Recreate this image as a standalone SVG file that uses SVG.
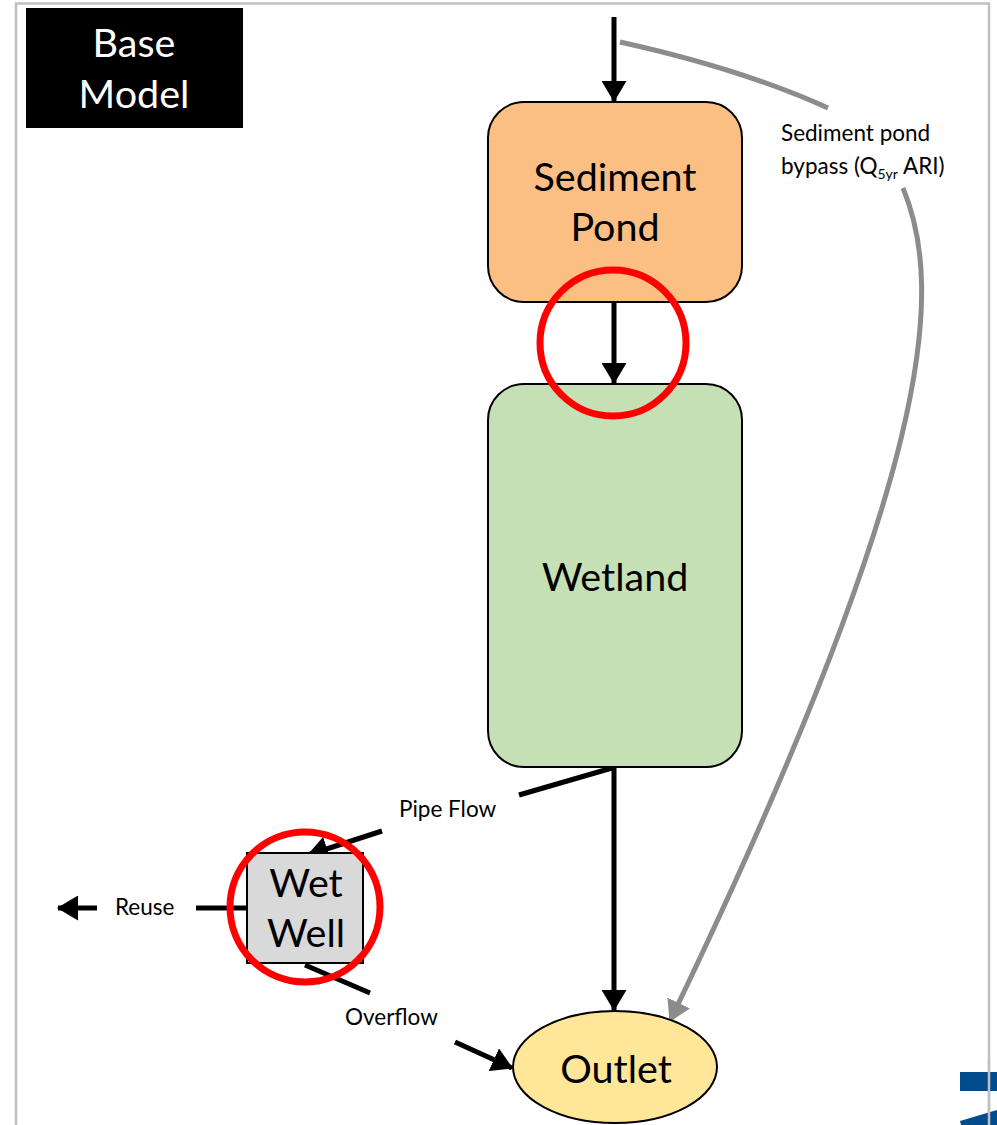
<svg xmlns="http://www.w3.org/2000/svg" width="997" height="1125" viewBox="0 0 997 1125">
<defs>
<style>
.node{stroke:#000;stroke-width:2}
.big{font-family:Lato,"Open Sans","Liberation Sans",sans-serif;font-size:39.5px;fill:#000;text-anchor:middle}
.lbl{font-family:Lato,"Open Sans","Liberation Sans",sans-serif;font-size:22.5px;fill:#000}
.flow{stroke:#000;stroke-width:5;fill:none}
.bypass{stroke:#8c8c8c;stroke-width:5;fill:none}
.ring{stroke:#ff0000;stroke-width:7;fill:none}
</style>
<marker id="ah" markerWidth="5" markerHeight="5" refX="4" refY="2.5" orient="auto" markerUnits="strokeWidth">
<path d="M0,0 L4.2,2.5 L0,5 Z" fill="#000"/>
</marker>
<marker id="ahg" markerWidth="5" markerHeight="5" refX="4" refY="2.5" orient="auto" markerUnits="strokeWidth">
<path d="M0,0 L4.2,2.5 L0,5 Z" fill="#8c8c8c"/>
</marker>
</defs>
<rect width="997" height="1125" fill="#fff"/>
<path d="M16,1125 V3.5 H989 V1125" fill="none" stroke="#c0c0c0" stroke-width="2.5"/>
<g id="logo">
<rect x="960" y="1072" width="37" height="19" fill="#004c8c"/>
<polygon points="960,1121 997,1110 997,1125 961,1125" fill="#004c8c"/>
<line x1="989" y1="1060" x2="989" y2="1125" stroke="#c0c0c0" stroke-width="2.5"/>
</g>
<g id="title">
<rect x="26" y="8" width="217" height="120" fill="#000"/>
<text class="big" x="134" y="57" style="fill:#fff">Base</text>
<text class="big" x="134" y="108" style="fill:#fff">Model</text>
</g>
<g id="connectors">
<line class="flow" x1="614" y1="17" x2="614" y2="101" marker-end="url(#ah)"/>
<line class="flow" x1="614" y1="302" x2="614" y2="383" marker-end="url(#ah)"/>
<line class="flow" x1="614" y1="767" x2="614" y2="1010" marker-end="url(#ah)"/>
<path class="bypass" d="M620,42 Q742,69 828,108"/>
<path class="bypass" d="M903,188 C945,290 935,470 670,1021" marker-end="url(#ahg)"/>
<line class="flow" x1="612" y1="768" x2="519" y2="795"/>
<line class="flow" x1="382" y1="831" x2="308" y2="855" marker-end="url(#ah)"/>
<line class="flow" x1="247" y1="908" x2="196" y2="908"/>
<line class="flow" x1="97" y1="908" x2="58" y2="908" marker-end="url(#ah)"/>
<line class="flow" x1="305" y1="965" x2="370" y2="993"/>
<line class="flow" x1="455" y1="1042" x2="512" y2="1068" marker-end="url(#ah)"/>
</g>
<g id="sediment-pond">
<rect class="node" x="488" y="102" width="254" height="200" rx="36" fill="#fbbf84"/>
<text class="big" x="615" y="191">Sediment</text>
<text class="big" x="615" y="241">Pond</text>
</g>
<g id="wetland">
<rect class="node" x="488" y="384" width="254" height="383" rx="36" fill="#c5e0b4"/>
<text class="big" x="615" y="591">Wetland</text>
</g>
<g id="wet-well">
<rect class="node" x="247" y="853" width="116" height="110" fill="#d9d9d9"/>
<text class="big" x="306" y="897">Wet</text>
<text class="big" x="306" y="947">Well</text>
</g>
<g id="outlet">
<ellipse class="node" cx="615" cy="1067" rx="102" ry="56" fill="#ffe699"/>
<text class="big" x="616" y="1083">Outlet</text>
</g>
<g id="labels">
<text class="lbl" x="781" y="141">Sediment pond</text>
<text class="lbl" x="781" y="174">bypass (Q<tspan font-size="14" dy="5">5yr</tspan><tspan dy="-5">  ARI)</tspan></text>
<text class="lbl" x="399" y="817">Pipe Flow</text>
<text class="lbl" x="115" y="915">Reuse</text>
<text class="lbl" x="345" y="1025">Overflow</text>
</g>
<g id="highlights">
<circle class="ring" cx="613" cy="343" r="73"/>
<circle class="ring" cx="305" cy="907" r="75"/>
</g>
</svg>
